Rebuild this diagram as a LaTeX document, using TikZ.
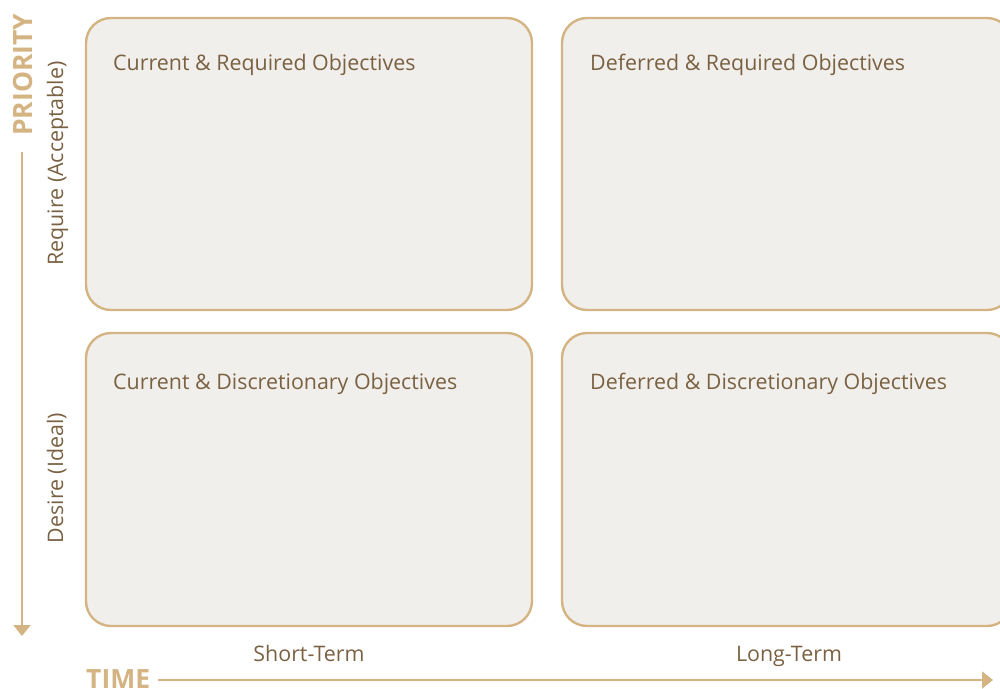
\documentclass[tikz,border=0pt]{standalone}
\usepackage{fontspec}
\setmainfont{Open Sans}
\usetikzlibrary{arrows.meta}
\definecolor{tanline}{HTML}{D4B482}
\definecolor{boxfill}{HTML}{F1EFEB}
\definecolor{txt}{HTML}{7A6142}
\begin{document}
\begin{tikzpicture}[x=1pt,y=-1pt,
  quad/.style={draw=tanline,line width=2.4pt,fill=boxfill,rounded corners=25pt},
  qlabel/.style={anchor=base west,text=txt,font=\fontsize{21.4}{25}\selectfont,inner sep=0},
  axlabel/.style={anchor=base,text=txt,font=\fontsize{21.4}{25}\selectfont,inner sep=0},
  axtitle/.style={anchor=base west,text=tanline,font=\bfseries\fontsize{26.5}{30}\selectfont,inner sep=0},
  axis/.style={draw=tanline,line width=2pt,-{Triangle[length=11pt,width=17pt]}}]
\useasboundingbox (0,0) rectangle (1000,688);
\begin{scope}
\clip (0,0) rectangle (1000,688);
\draw[quad] (86,18) rectangle (532,310);
\draw[quad] (562,18) rectangle (1012,310);
\draw[quad] (86,333) rectangle (532,626);
\draw[quad] (562,333) rectangle (1012,626);
\node[qlabel] (q1) at (113,70) {Current \& Required Objectives};
\node[qlabel] (q2) at (590,70) {Deferred \& Required Objectives};
\node[qlabel] (q3) at (113,389) {Current \& Discretionary Objectives};
\node[qlabel] (q4) at (590,389) {Deferred \& Discretionary Objectives};
\node[axlabel,rotate=90] (req) at (63,163.5) {Require (Acceptable)};
\node[axlabel,rotate=90] (des) at (63,478) {Desire (Ideal)};
\node[axlabel] (st) at (309,661) {Short-Term};
\node[axlabel] (lt) at (789,661) {Long-Term};
\node[axtitle,rotate=90] (pri) at (32,136) {PRIORITY};
\node[axtitle] (time) at (86,688) {TIME};
\coordinate (pstart) at (22,152);
\coordinate (pend) at (22,636);
\coordinate (tstart) at (158,680);
\coordinate (tend) at (993,680);
\draw[axis] (pstart) -- (pend);
\draw[axis] (tstart) -- (tend);
\end{scope}
\end{tikzpicture}
\end{document}
